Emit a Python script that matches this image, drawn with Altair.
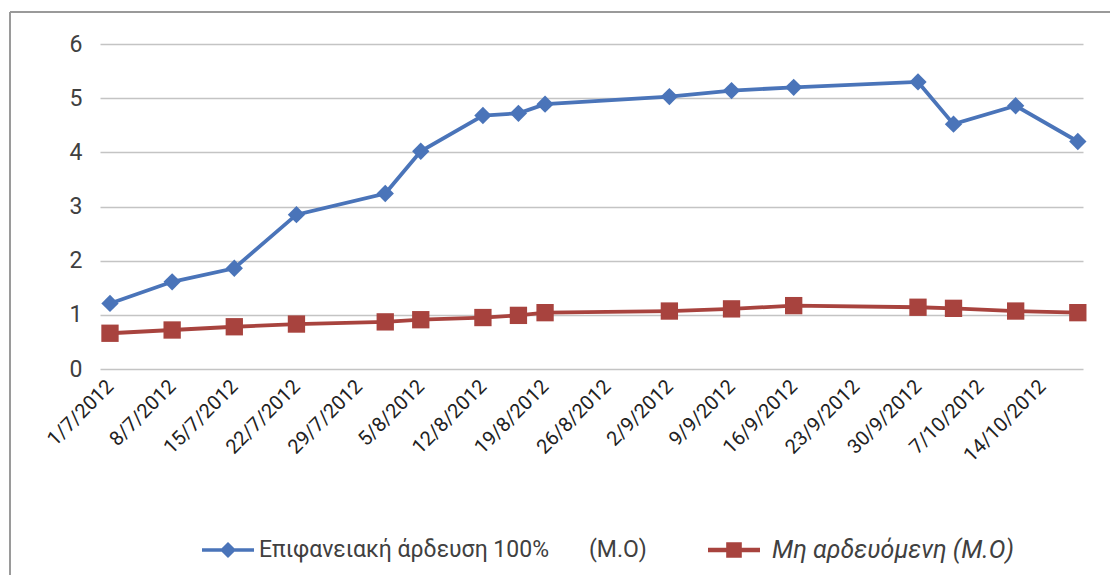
import altair as alt
import pandas as pd

# ---- data ----
dates = ["2012-07-01", "2012-07-08", "2012-07-15", "2012-07-22", "2012-08-01",
         "2012-08-05", "2012-08-12", "2012-08-16", "2012-08-19", "2012-09-02",
         "2012-09-09", "2012-09-16", "2012-09-30", "2012-10-04", "2012-10-11",
         "2012-10-18"]
surface_irrigation = [1.21, 1.61, 1.86, 2.85, 3.24, 4.02, 4.68, 4.72, 4.89, 5.03,
                      5.14, 5.20, 5.30, 4.52, 4.86, 4.20]
non_irrigated = [0.66, 0.72, 0.78, 0.83, 0.87, 0.91, 0.95, 0.99, 1.04, 1.07,
                 1.11, 1.17, 1.14, 1.12, 1.07, 1.04]
series_names = ["Επιφανειακή άρδευση 100%\u00a0\u00a0\u00a0\u00a0\u00a0\u00a0\u00a0(Μ.Ο)",
                "Μη αρδευόμενη (Μ.Ο)"]
tick_dates = ["2012-07-01", "2012-07-08", "2012-07-15", "2012-07-22", "2012-07-29",
              "2012-08-05", "2012-08-12", "2012-08-19", "2012-08-26", "2012-09-02",
              "2012-09-09", "2012-09-16", "2012-09-23", "2012-09-30", "2012-10-07",
              "2012-10-14"]
y_ticks = [0, 1, 2, 3, 4, 5, 6]

colors = ["#4A74B9", "#A8433E"]

rows = []
for d, v in zip(dates, surface_irrigation):
    rows.append({"date": d, "value": v, "series": series_names[0]})
for d, v in zip(dates, non_irrigated):
    rows.append({"date": d, "value": v, "series": series_names[1]})
df = pd.DataFrame(rows)


def to_ms(s, hours=0):
    return int((pd.Timestamp(s, tz="UTC") + pd.Timedelta(hours=hours)).value // 10**6)


tick_values = [to_ms(t) for t in tick_dates]
x_domain = [to_ms("2012-06-29", 21), to_ms("2012-10-18", 14)]

FONT = "Roboto"

x = alt.X("date:T", scale=alt.Scale(type="utc", domain=x_domain),
          axis=alt.Axis(values=tick_values, title=None, grid=False, ticks=False,
                        domain=False, labelAngle=-45, labelAlign="right",
                        labelBaseline="middle", labelPadding=14,
                        labelExpr="utcFormat(datum.value, '%-d/%-m/%Y')",
                        labelFont=FONT, labelFontSize=20, labelColor="#222222",
                        labelOverlap=False, labelBound=False))
y = alt.Y("value:Q", scale=alt.Scale(domain=[0, 6], nice=False),
          axis=alt.Axis(values=y_ticks, title=None, ticks=False, domain=False,
                        labelPadding=18, labelFont=FONT, labelFontSize=23,
                        labelColor="#404040", gridColor="#C4C4C4", gridWidth=1.5))

blue_path = "M-1,-0.065L1,-0.065L1,0.065L-1,0.065ZM0,-0.31L0.31,0L0,0.31L-0.31,0Z"
brown_path = "M-1,-0.085L1,-0.085L1,0.085L-1,0.085ZM-0.3,-0.3L0.3,-0.3L0.3,0.3L-0.3,0.3Z"

color_all = alt.Color("series:N", scale=alt.Scale(domain=series_names, range=colors),
                      legend=None)

lines = alt.Chart(df).mark_line(strokeWidth=3.8).encode(
    x=x, y=y, color=color_all, detail="series:N")
points = alt.Chart(df).mark_point(filled=True, opacity=1, size=300).encode(
    x=x, y=y, color=color_all,
    shape=alt.Shape("series:N", scale=alt.Scale(domain=series_names, range=["diamond", "square"]),
                    legend=None))


def legend_layer(i, lx, italic, fsize, offset):
    leg = alt.Legend(title=None, orient="none", direction="horizontal",
                     legendX=lx, legendY=480, symbolSize=2704, labelOffset=offset,
                     labelFont=FONT, labelFontSize=fsize, labelColor="#404040",
                     labelLimit=600, symbolStrokeWidth=0,
                     labelFontStyle="italic" if italic else "normal")
    return alt.Chart(df).transform_filter("false").mark_point(
        filled=True, opacity=1).encode(
        x=x, y=y,
        color=alt.Color("series:N", scale=alt.Scale(domain=[series_names[i]], range=[colors[i]]),
                        legend=leg),
        shape=alt.Shape("series:N", scale=alt.Scale(domain=[series_names[i]],
                                                    range=[blue_path if i == 0 else brown_path]),
                        legend=leg))


leg_blue = legend_layer(0, 102, False, 23, 5)
leg_brown = legend_layer(1, 608, True, 25, 12)

frame_data = alt.Data(values=[{"f": 1}])
frame_left = alt.Chart(frame_data).mark_rule(stroke="#9A9A9A", strokeWidth=2).encode(
    x=alt.value(-90), y=alt.value(-32), y2=alt.value(620))
frame_top = alt.Chart(frame_data).mark_rule(stroke="#9A9A9A", strokeWidth=2).encode(
    y=alt.value(-32), x=alt.value(-90), x2=alt.value(1100))

chart = alt.layer(frame_left, frame_top, lines, points, leg_blue, leg_brown).resolve_scale(
    color="independent", shape="independent"
).resolve_legend(color="independent", shape="independent").properties(
    width=983, height=325,
    autosize=alt.AutoSizeParams(type="none"),
    padding={"left": 92, "top": 36, "right": 27, "bottom": 206},
    background="white",
).configure_view(stroke=None)

chart.save("out.html", embed_options={"renderer": "svg", "actions": False})
